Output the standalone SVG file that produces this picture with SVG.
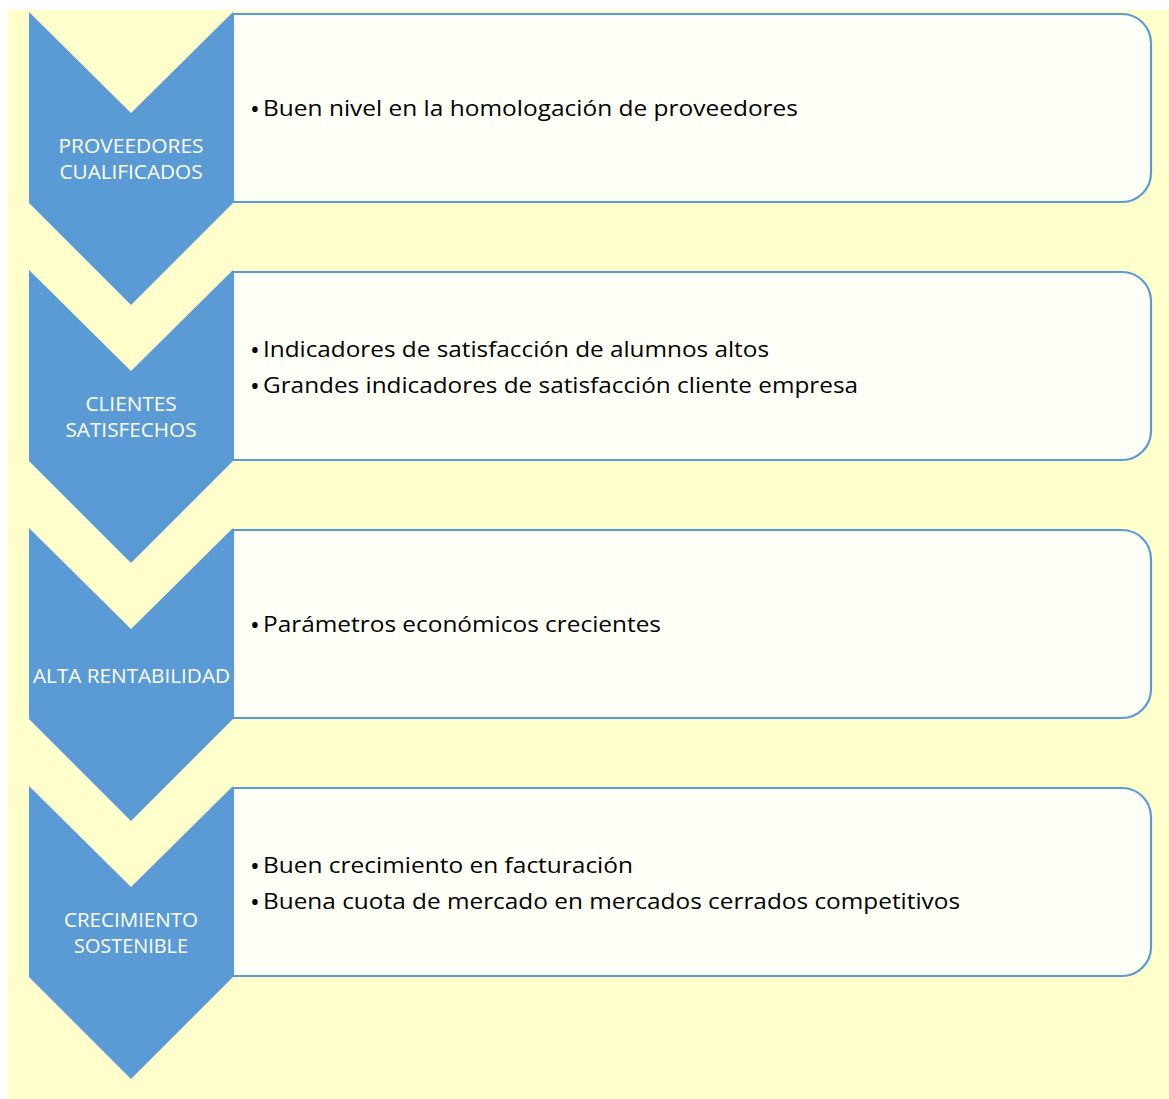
<svg xmlns="http://www.w3.org/2000/svg" width="1169" height="1099" viewBox="0 0 1169 1099">
  <style>
    .bg { fill: #FFFFCC; }
    .chev { fill: #5B9BD5; }
    .box { fill: #FEFFF7; stroke: #5B9BD5; stroke-width: 2.2; }
    .lbl { font-family: "Open Sans", "Noto Sans", sans-serif; font-size: 20px; fill: #FFFFFF; }
    .txt { font-family: "Open Sans", "Noto Sans", sans-serif; font-size: 22px; fill: #000000; }
    .bul { font-family: "Open Sans", "Noto Sans", sans-serif; font-size: 26px; fill: #000000; text-anchor: middle; }
  </style>
  <defs>
    <path id="boxShape" d="M233,14 H1122 A29,29 0 0 1 1151,43 V173 A29,29 0 0 1 1122,202 H233 Z"/>
    <polygon id="chevShape" points="29,12 131,113 233,12 233,203 131,305 29,203"/>
  </defs>
  <rect class="bg" x="8" y="10" width="1161" height="1089"/>
  <g id="connectors"/>
  <g id="step1">
    <use href="#boxShape" class="box"/>
    <use href="#chevShape" class="chev"/>
    <text class="lbl" x="131" y="153" text-anchor="middle" textLength="145" lengthAdjust="spacingAndGlyphs">PROVEEDORES</text>
    <text class="lbl" x="131" y="179" text-anchor="middle" textLength="143" lengthAdjust="spacingAndGlyphs">CUALIFICADOS</text>
    <text class="bul" x="255" y="118">•</text>
    <text class="txt" x="263" y="116" textLength="535" lengthAdjust="spacingAndGlyphs">Buen nivel en la homologación de proveedores</text>
  </g>
  <g id="step2" transform="translate(0,258)">
    <use href="#boxShape" class="box"/>
    <use href="#chevShape" class="chev"/>
    <text class="lbl" x="131" y="153" text-anchor="middle" textLength="91" lengthAdjust="spacingAndGlyphs">CLIENTES</text>
    <text class="lbl" x="131" y="179" text-anchor="middle" textLength="131" lengthAdjust="spacingAndGlyphs">SATISFECHOS</text>
    <text class="bul" x="255" y="101">•</text>
    <text class="txt" x="263" y="99" textLength="506" lengthAdjust="spacingAndGlyphs">Indicadores de satisfacción de alumnos altos</text>
    <text class="bul" x="255" y="137">•</text>
    <text class="txt" x="263" y="135" textLength="595" lengthAdjust="spacingAndGlyphs">Grandes indicadores de satisfacción cliente empresa</text>
  </g>
  <g id="step3" transform="translate(0,516)">
    <use href="#boxShape" class="box"/>
    <use href="#chevShape" class="chev"/>
    <text class="lbl" x="131.5" y="167" text-anchor="middle" textLength="197" lengthAdjust="spacingAndGlyphs">ALTA RENTABILIDAD</text>
    <text class="bul" x="255" y="118">•</text>
    <text class="txt" x="263" y="116" textLength="398" lengthAdjust="spacingAndGlyphs">Parámetros económicos crecientes</text>
  </g>
  <g id="step4" transform="translate(0,774)">
    <use href="#boxShape" class="box"/>
    <use href="#chevShape" class="chev"/>
    <text class="lbl" x="131" y="153" text-anchor="middle" textLength="134" lengthAdjust="spacingAndGlyphs">CRECIMIENTO</text>
    <text class="lbl" x="131" y="179" text-anchor="middle" textLength="114" lengthAdjust="spacingAndGlyphs">SOSTENIBLE</text>
    <text class="bul" x="255" y="101">•</text>
    <text class="txt" x="263" y="99" textLength="370" lengthAdjust="spacingAndGlyphs">Buen crecimiento en facturación</text>
    <text class="bul" x="255" y="137">•</text>
    <text class="txt" x="263" y="135" textLength="697" lengthAdjust="spacingAndGlyphs">Buena cuota de mercado en mercados cerrados competitivos</text>
  </g>
</svg>
